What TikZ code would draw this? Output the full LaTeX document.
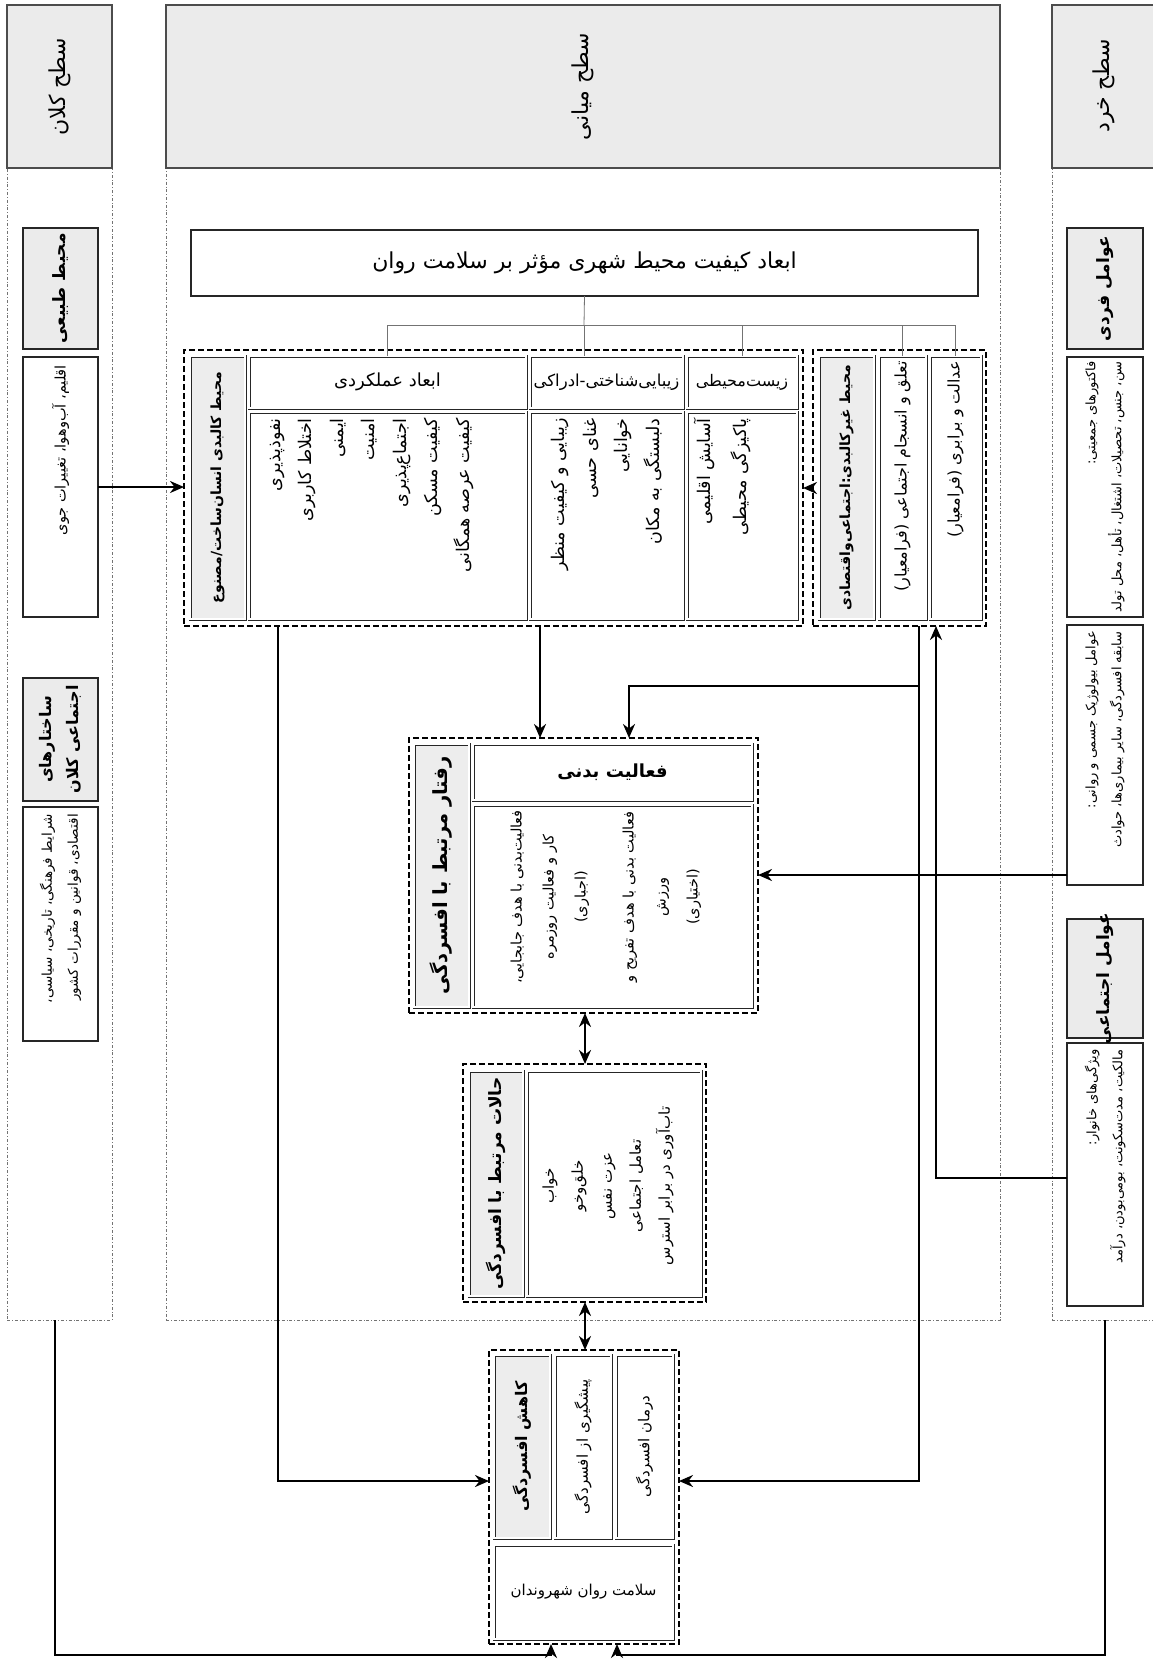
\documentclass[tikz,border=0pt]{standalone}
\usepackage{fontspec}
\newfontfamily\fa[Script=Arabic]{DejaVu Sans}
\TeXXeTstate=1
\usetikzlibrary{arrows.meta}
\newcommand\R[1]{\beginR #1\endR}
\newcommand\zw{^^^^200c}
\newcommand\ff[2]{\fa\fontsize{#1}{#2}\selectfont}
\newcommand\fb[2]{\fa\bfseries\fontsize{#1}{#2}\selectfont}
\newcommand\mkbox[6]{%
  \node[#6, minimum width={(#4)-(#2)}, minimum height={(#5)-(#3)}, inner sep=0pt, outer sep=0pt]
    (#1) at ({((#2)+(#4))/2},{((#3)+(#5))/2}) {};}
\begin{document}
\begin{tikzpicture}[x=1pt,y=-1pt,
  hdr/.style={draw=black!70,line width=1.5pt,fill=black!8},
  pnl/.style={draw=black!55,line width=0.7pt,dash dot},
  pbox/.style={draw=black!85,line width=1.6pt},
  pgbox/.style={draw=black!85,line width=1.6pt,fill=black!8},
  dbox/.style={draw=black!85,line width=0.8pt,double=white,double distance=1.4pt},
  dgbox/.style={draw=black!85,line width=0.8pt,double=white,double distance=1.4pt,fill=black!7},
  grp/.style={draw=black,line width=2pt,dash pattern=on 6pt off 3pt},
  rt/.style={rotate=90,inner sep=0pt},
  ht/.style={inner sep=0pt},
  tree/.style={draw=black!55,line width=0.8pt},
  arr/.style={line width=2.6pt,-{Stealth[length=14pt,width=12pt]}},
  darr/.style={line width=2.6pt,{Stealth[length=14pt,width=12pt]}-{Stealth[length=14pt,width=12pt]}}
]
\useasboundingbox (0,0) rectangle (1152,1660);

% ---------- levels ----------
\mkbox{P1}{7}{168}{112}{1320}{pnl}
\mkbox{P2}{166}{168}{1000}{1320}{pnl}
\mkbox{P3}{1052}{168}{1158}{1320}{pnl}
\mkbox{H1}{7}{5}{112}{168}{hdr}
\mkbox{H2}{166}{5}{1000}{168}{hdr}
\mkbox{H3}{1052}{5}{1158}{168}{hdr}
\node[rt,font=\ff{22}{26}] (H1t) at (H1) {\R{سطح کلان}};
\node[rt,font=\ff{22}{26}] (H2t) at (H2) {\R{سطح میانی}};
\node[rt,font=\ff{22}{26}] (H3t) at (1104,86) {\R{سطح خرد}};

% ---------- macro level ----------
\mkbox{nat}{23}{228}{98}{349}{pgbox}
\mkbox{clim}{23}{357}{98}{617}{pbox}
\mkbox{soc}{23}{678}{98}{801}{pgbox}
\mkbox{cond}{23}{807}{98}{1041}{pbox}
\node[rt,font=\fb{17}{20}] (natt) at (nat) {\R{محیط طبیعی}};
\node[rt,anchor=east,font=\ff{14.5}{24}] (climt) at ([yshift=-8pt]clim.north) {\R{اقلیم، آب\zw وهوا، تغییرات جوی}};
\node[rt,align=center,font=\fb{16}{27}] (soct) at (soc) {\R{ساختارهای}\\\R{اجتماعی کلان}};
\node[rt,anchor=east,align=right,font=\ff{13.5}{26}] (condt) at ([yshift=-7pt]cond.north) {\R{شرایط فرهنگی، تاریخی، سیاسی،}\\\R{اقتصادی، قوانین و مقررات کشور}};

% ---------- micro level ----------
\mkbox{ind}{1067}{228}{1143}{349}{pgbox}
\mkbox{dem}{1067}{357}{1143}{617}{pbox}
\mkbox{bio}{1067}{625}{1143}{885}{pbox}
\mkbox{socf}{1067}{919}{1143}{1038}{pgbox}
\mkbox{hh}{1067}{1043}{1143}{1306}{pbox}
\node[rt,font=\fb{17}{20}] (indt) at (ind) {\R{عوامل فردی}};
\node[rt,anchor=east,align=right,font=\ff{13}{26}] (demt) at ([yshift=-4pt]dem.north) {\R{فاکتورهای جمعیتی:}\\\R{سن، جنس، تحصیلات، اشتغال، تأهل، محل تولد}};
\node[rt,anchor=east,align=right,font=\ff{13}{26}] (biot) at ([yshift=-6pt]bio.north) {\R{عوامل بیولوژیک جسمی و روانی:}\\\R{سابقه افسردگی، سایر بیماری\zw ها، حوادث}};
\node[rt,font=\fb{17}{20}] (socft) at (socf) {\R{عوامل اجتماعی}};
\node[rt,anchor=east,align=right,font=\ff{13}{26}] (hht) at ([yshift=-6pt]hh.north) {\R{ویژگی\zw های خانوار:}\\\R{مالکیت، مدت\zw سکونت، بومی\zw بودن، درآمد}};

% ---------- middle level: environment ----------
\mkbox{top}{191}{230}{978}{296}{pbox}
\node[ht,font=\ff{22}{26}] (topt) at (top) {\R{ابعاد کیفیت محیط شهری مؤثر بر سلامت روان}};

\mkbox{G1}{184}{350}{803}{626}{grp}
\mkbox{g1t}{190}{356}{245}{619}{dgbox}
\mkbox{c1h}{249}{356}{526}{408}{dbox}
\mkbox{c1}{249}{412}{526}{619}{dbox}
\mkbox{c2h}{530}{356}{683}{408}{dbox}
\mkbox{c2}{530}{412}{683}{619}{dbox}
\mkbox{c3h}{687}{356}{797}{408}{dbox}
\mkbox{c3}{687}{412}{797}{619}{dbox}
\node[rt,font=\fb{14}{20}] (g1tt) at (g1t) {\R{محیط کالبدی انسان\zw ساخت/مصنوع}};
\node[ht,font=\ff{18}{22}] (c1ht) at (c1h) {\R{ابعاد عملکردی}};
\node[ht,font=\ff{16.5}{20}] (c2ht) at (c2h) {\R{زیبایی\zw شناختی-ادراکی}};
\node[ht,font=\ff{16}{20}] (c3ht) at (c3h) {\R{زیست\zw محیطی}};
\node[rt,anchor=east,align=right,font=\ff{17.5}{31.5}] (c1t) at (372,418)
  {\R{نفوذپذیری}\\\R{اختلاط کاربری}\\\R{ایمنی}\\\R{امنیت}\\\R{اجتماع\zw پذیری}\\\R{کیفیت مسکن}\\\R{کیفیت عرصه همگانی}};
\node[rt,anchor=east,align=right,font=\ff{17.5}{31.5}] (c2t) at (607,418)
  {\R{زیبایی و کیفیت منظر}\\\R{غنای حسی}\\\R{خوانایی}\\\R{دلبستگی به مکان}};
\node[rt,anchor=east,align=right,font=\ff{17.5}{36}] (c3t) at (722,418)
  {\R{آسایش اقلیمی}\\\R{پاکیزگی محیطی}};

\mkbox{G2}{813}{350}{986}{626}{grp}
\mkbox{g2t}{819}{356}{874}{619}{dgbox}
\mkbox{g2a}{879}{356}{926}{619}{dbox}
\mkbox{g2b}{930}{356}{981}{619}{dbox}
\node[rt,font=\fb{14}{20}] (g2tt) at (g2t) {\R{محیط غیرکالبدی:اجتماعی\zw واقتصادی}};
\node[rt,anchor=east,font=\ff{16}{20}] (g2at) at ([yshift=-5pt]g2a.north) {\R{تعلق و انسجام اجتماعی (فرامعیار)}};
\node[rt,anchor=east,font=\ff{16}{20}] (g2bt) at ([yshift=-5pt]g2b.north) {\R{عدالت و برابری (فرامعیار)}};

% tree
\coordinate (tj) at (584,325);
\draw[tree] (top.south) -- (tj);
\draw[tree] (c1h.north) -- (c1h.north |- tj) -- (g2b.north |- tj) -- (g2b.north);
\draw[tree] (tj) -- (tj |- c2h.north);
\draw[tree] (c3h.north |- tj) -- (c3h.north);
\draw[tree] (g2a.north |- tj) -- (g2a.north);

% ---------- behaviour ----------
\mkbox{beh}{409}{738}{758}{1013}{grp}
\mkbox{beht}{414}{744}{469}{1007}{dgbox}
\mkbox{behh}{473}{744}{752}{800}{dbox}
\mkbox{behc}{473}{805}{752}{1007}{dbox}
\node[rt,font=\fb{19.5}{22}] (behtt) at (beht) {\R{رفتار مرتبط با افسردگی}};
\node[ht,font=\fb{18}{22}] (behht) at (behh) {\R{فعالیت بدنی}};
\node[rt,align=center,font=\ff{14.5}{32}] (behct) at (606,897)
  {\R{فعالیت\zw بدنی با هدف جابجایی،}\\\R{کار و فعالیت روزمره}\\\R{(اجباری)}\\[16pt]\R{فعالیت بدنی با هدف تفریح و}\\\R{ورزش}\\\R{(اختیاری)}};

% ---------- states ----------
\mkbox{st}{463}{1064}{706}{1302}{grp}
\mkbox{stt}{469}{1071}{523}{1296}{dgbox}
\mkbox{stc}{527}{1071}{701}{1296}{dbox}
\node[rt,font=\fb{17}{22}] (sttt) at (stt) {\R{حالات مرتبط با افسردگی}};
\node[rt,align=center,font=\ff{15}{29}] (stct) at (608,1186)
  {\R{خواب}\\\R{خلق\zw وخو}\\\R{عزت نفس}\\\R{تعامل اجتماعی}\\\R{تاب\zw آوری در برابر استرس}};

% ---------- reduction ----------
\mkbox{red}{489}{1350}{679}{1644}{grp}
\mkbox{redt}{494}{1355}{550}{1538}{dgbox}
\mkbox{redp}{555}{1355}{611}{1538}{dbox}
\mkbox{redd}{616}{1355}{673}{1538}{dbox}
\mkbox{redb}{494}{1545}{673}{1639}{dbox}
\node[rt,font=\fb{16}{20}] (redtt) at (redt) {\R{کاهش افسردگی}};
\node[rt,font=\ff{15}{20}] (redpt) at (redp) {\R{پیشگیری از افسردگی}};
\node[rt,font=\ff{15}{20}] (reddt) at (redd) {\R{درمان افسردگی}};
\node[ht,font=\ff{15}{20}] (redbt) at (redb) {\R{سلامت روان شهروندان}};

% ---------- connectors ----------
\draw[arr] (clim.east) -- (clim.east -| G1.west);
\draw[arr] (G2.west) -- (G2.west -| G1.east);
\draw[arr] (G1.south -| 540,0) -- (beh.north -| 540,0);
\coordinate (jB) at (919,686);
\draw[arr] (jB) -| (beh.north -| 629,0);
\draw[arr] (G2.south -| 919,0) |- (red.east |- 0,1481);
\draw[arr] (G1.south -| 278,0) |- (red.west |- 0,1481);
\draw[arr] (hh.west |- 0,1178) -| (G2.south -| 936,0);
\draw[arr] (bio.west |- 0,875) -- (beh.east |- 0,875);
\draw[darr] (beh.south -| 585,0) -- (st.north -| 585,0);
\draw[darr] (st.south -| 585,0) -- (red.north -| 585,0);
\coordinate (bl) at (55,1655);
\coordinate (br) at (1105,1655);
\draw[arr] (P1.south -| bl) -- (bl) -| (red.south -| 551,0);
\draw[arr] (P3.south -| br) -- (br) -| (red.south -| 617,0);
\end{tikzpicture}
\end{document}
